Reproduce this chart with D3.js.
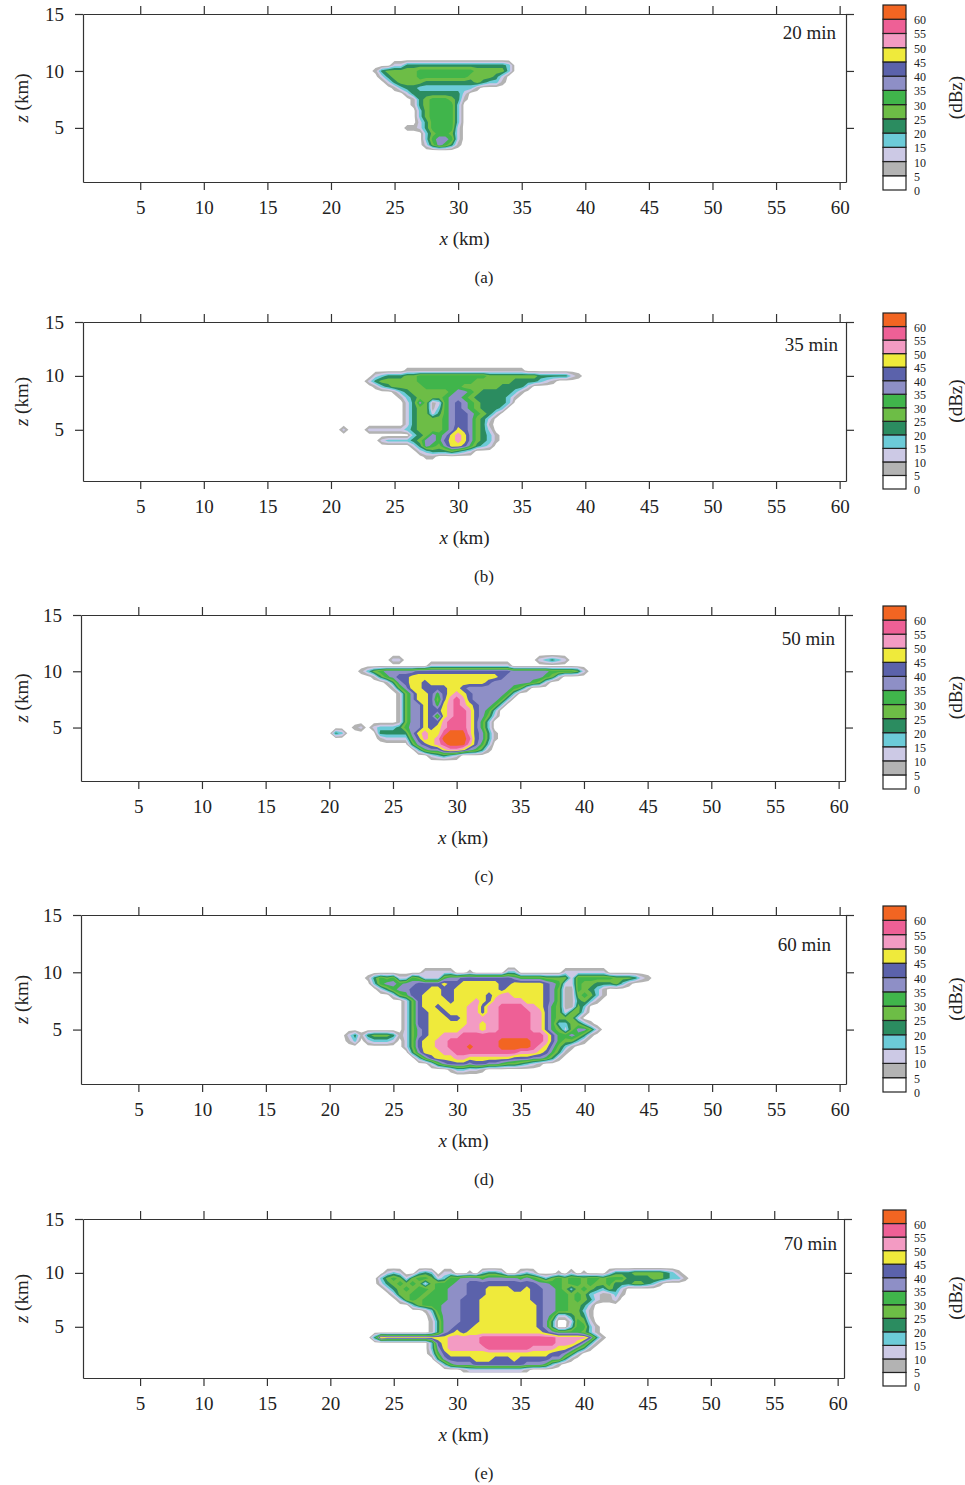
<!DOCTYPE html>
<html>
<head>
<meta charset="utf-8">
<script src="https://cdn.jsdelivr.net/npm/d3@7"></script>
<style>
  body { margin: 0; background: #fff; }
  text { font-family: "Liberation Serif", "DejaVu Serif", serif; fill: #222; }
</style>
</head>
<body>
<svg id="chart" width="965" height="1485"></svg>
<script>
"use strict";

// reflectivity classes, 5 dBz each, with the colour bar colours
const levels = [0, 5, 10, 15, 20, 25, 30, 35, 40, 45, 50, 55, 60];
const levelColors = ["#ffffff", "#b3b3b3", "#ccc9e5", "#6ccbd8", "#2b8c60", "#6dbd46",
                     "#40b54b", "#8e8fc6", "#5b62ab", "#efea3b", "#f39bc3", "#ee6096", "#f26522"];

const xTicks = [5, 10, 15, 20, 25, 30, 35, 40, 45, 50, 55, 60];
const zTicks = [5, 10, 15];
const panelTimes = ["20 min", "35 min", "50 min", "60 min", "70 min"];
const panelTags = ["(a)", "(b)", "(c)", "(d)", "(e)"];

// grid the fields were read on: x from 20 km, z from 11.5 km downwards, 0.5 km step
const gridX0 = 20, gridZTop = 11.5, gridStep = 0.5, gridCols = 59, gridRows = 22;

// each row: [first column, class index per cell (hex digit, "." = none)]
const refl20 = [
    [0, ""], [0, ""],
    [10, "2244444444444444443"],
    [7, "1455555666666666555553"],
    [8, "24555566666666555542"],
    [9, "2455554444444454331"],
    [10, "13443333333331"],
    [12, "2444444442"],
    [13, "145666541"],
    [13, "14566663"],
    [14, "3566663"],
    [14, "3566663"],
    [14, "2466663"],
    [12, "112466662"],
    [15, "356652"],
    [15, "367762"],
    [15, "257641"],
    [0, ""], [0, ""], [0, ""], [0, ""], [0, ""]
];

const refl35 = [
    [0, ""], [0, ""],
    [12, "1111111111111111111"],
    [7, "234445566666666666555555554444421"],
    [6, "245555556666666665555554444321"],
    [7, "1345555566666655555544442"],
    [10, "134555555677654444431"],
    [11, "1345555677654444431"],
    [12, "24751267876544443"],
    [12, "2455136787654443"],
    [12, "245524678876542"],
    [12, "24555567887542"],
    [12, "24555567887541"],
    [2, "2...22222234555567987542"],
    [13, "3457679a975431"],
    [8, "233334577689a975431"],
    [13, "2476579986432"],
    [14, "234445432"],
    [15, "11"],
    [0, ""], [0, ""], [0, ""]
];

const refl50 = [
    [0, ""],
    [10, "22.....................23432"],
    [16, "2222222222222"],
    [5, "135677777888888888888888777777666652"],
    [7, "146788999999999999998777777652"],
    [9, "14789989999999998777777652"],
    [10, "1579988889987777777652"],
    [11, "157998689a987777763"],
    [11, "15799858aba8777763"],
    [11, "15779869aba987763"],
    [11, "15779889abba8763"],
    [11, "15779859abba8752"],
    [11, "1577988abbba863"],
    [4, "12.23334677989abbba863"],
    [1, "43.....4444479a99bccca8741"],
    [8, "1222268a9accccb8741"],
    [13, "4789abccca863"],
    [14, "36779aa97641"],
    [16, "23432"],
    [0, ""], [0, ""], [0, ""]
];

const refl60 = [
    [0, ""], [0, ""], [0, ""],
    [15, "22222..1.....33.......2222222"],
    [6, "146562265222677888888887666655552666666555421"],
    [7, "36776778888988999999889999987622655444531"],
    [8, "246778889988999999989999998751165431"],
    [10, "25688999889999989aa999998751156531"],
    [12, "25899998999a98aaaaa999875114531"],
    [12, "2589989999aa8aabbbbaa98651153"],
    [12, "2588998999aa8aabbbbbaa8652552"],
    [12, "2588999889aaaaabbbbbaa865552"],
    [12, "2588999999aa9aabbbbbaa86335531"],
    [12, "257899999aaa9aabbbbbaa865257752"],
    [3, "241455541257899aaabbbbbbbbbbbbba8667641"],
    [3, "13.23332.25899aabbbbbbbbcccccbba865531"],
    [12, "25899aabbbcbbbbcccccba97531"],
    [13, "47999aabbbbbbbbbbaaa98641"],
    [14, "368999aa999999988877641"],
    [16, "257888788776554321"],
    [19, "133221"],
    [0, ""]
];

const refl70 = [
    [0, ""], [0, ""], [0, ""],
    [9, "232..343.22..1.3443..232...1.2.1...244455555431"],
    [8, "3565256652366777677777676535656656656664444554331"],
    [8, "245656525666778888888888877665665655644455431"],
    [9, "24565665667778889999889887765356543542"],
    [10, "2556656667778889999999887766565321131"],
    [11, "25656666778889999999988776656542112"],
    [13, "35666777888999999999877665542"],
    [15, "136777888999999999877665531"],
    [16, "25777888999999999876224541"],
    [16, "14777888999999999874..2652"],
    [16, "14778889999999999874..36631"],
    [16, "147898999999999999876666531"],
    [7, "4a9999999999aaaaabbbbbbbbbbbbaaaaa841"],
    [16, "389aaaaabbbbbbbbbbbbaaa9741"],
    [16, "379aaaaaabbbbbbbaaaa998641"],
    [16, "268999999999999999988752"],
    [17, "4788889998889888887741"],
    [18, "3677788888888777631"],
    [21, "12222222221"]
];

const panelGrids = [refl20, refl35, refl50, refl60, refl70];

// frame of each panel in the page, and where its time stamp sits
const panelLayout = [
    {top: 14,   bottom: 182,  left: 83, right: 846, timeX: 836, timeDy: 25},
    {top: 322,  bottom: 481,  left: 83, right: 846, timeX: 838, timeDy: 29},
    {top: 615,  bottom: 781,  left: 81, right: 845, timeX: 835, timeDy: 30},
    {top: 915,  bottom: 1084, left: 81, right: 846, timeX: 831, timeDy: 36},
    {top: 1219, bottom: 1378, left: 83, right: 844, timeX: 837, timeDy: 31}
];

const serif = "Liberation Serif, DejaVu Serif, serif";
const svg = d3.select("#chart");

const contourGen = d3.contours()
    .size([gridCols, gridRows])
    .thresholds(levels.slice(1).map((d, i) => i + 0.5));

function gridValues(rows) {
    const values = new Array(gridCols * gridRows).fill(0);
    rows.forEach(function(row, j) {
        const start = row[0], s = row[1];
        for (let k = 0; k < s.length; k++) {
            values[j * gridCols + start + k] = s[k] === "." ? 0 : parseInt(s[k], 16);
        }
    });
    return values;
}

function styleAxis(sel) {
    sel.attr("font-family", serif).attr("font-size", 19);
    sel.selectAll(".domain, .tick line").attr("stroke", "#333").attr("stroke-width", 1.2);
    sel.selectAll("text").attr("fill", "#222");
}

function drawPanel(i) {
    const p = panelLayout[i];
    const g = svg.append("g");

    const x = d3.scaleLinear().domain([0.5, 60.5]).range([p.left, p.right]);
    const y = d3.scaleLinear().domain([0.25, 15]).range([p.bottom, p.top]);

    g.append("clipPath").attr("id", "clip" + i)
      .append("rect")
        .attr("x", p.left).attr("y", p.top)
        .attr("width", p.right - p.left).attr("height", p.bottom - p.top);

    // grid cell (cx, cy) is centred at contour coordinate (cx + 0.5, cy + 0.5)
    const proj = d3.geoTransform({
        point: function(cx, cy) {
            this.stream.point(x(gridX0 + (cx - 0.5) * gridStep),
                              y(gridZTop - (cy - 0.5) * gridStep));
        }
    });
    const path = d3.geoPath(proj);

    g.append("g")
        .attr("clip-path", "url(#clip" + i + ")")
      .selectAll("path")
      .data(contourGen(gridValues(panelGrids[i])))
      .join("path")
        .attr("d", path)
        .attr("fill", d => levelColors[Math.round(d.value + 0.5)])
        .attr("stroke", "none");

    // axes, ticks pointing out on all four sides
    g.append("g").attr("transform", `translate(0,${p.bottom})`)
        .call(d3.axisBottom(x).tickValues(xTicks).tickSize(8).tickPadding(11).tickSizeOuter(0))
        .call(styleAxis);
    g.append("g").attr("transform", `translate(0,${p.top})`)
        .call(d3.axisTop(x).tickValues(xTicks).tickSize(8).tickFormat("").tickSizeOuter(0))
        .call(styleAxis);
    g.append("g").attr("transform", `translate(${p.left},0)`)
        .call(d3.axisLeft(y).tickValues(zTicks).tickSize(8).tickPadding(11).tickSizeOuter(0))
        .call(styleAxis);
    g.append("g").attr("transform", `translate(${p.right},0)`)
        .call(d3.axisRight(y).tickValues(zTicks).tickSize(8).tickFormat("").tickSizeOuter(0))
        .call(styleAxis);

    // axis titles
    const xt = g.append("text")
        .attr("x", (p.left + p.right) / 2).attr("y", p.bottom + 63)
        .attr("text-anchor", "middle").attr("font-size", 19);
    xt.append("tspan").attr("font-style", "italic").text("x");
    xt.append("tspan").text(" (km)");

    const zt = g.append("text")
        .attr("transform", `translate(21,${(p.top + p.bottom) / 2}) rotate(-90)`)
        .attr("text-anchor", "middle").attr("dominant-baseline", "central")
        .attr("font-size", 19);
    zt.append("tspan").attr("font-style", "italic").text("z");
    zt.append("tspan").text(" (km)");

    g.append("text")
        .attr("x", 484).attr("y", p.bottom + 101)
        .attr("text-anchor", "middle").attr("font-size", 17)
        .text(panelTags[i]);

    g.append("text")
        .attr("x", p.timeX).attr("y", p.top + p.timeDy)
        .attr("text-anchor", "end").attr("font-size", 19)
        .text(panelTimes[i]);

    // colour bar; each label sits at the lower edge of its box
    const cbTop = p.top - 9, cbBottom = p.bottom + 8;
    const n = levels.length;
    const boxH = (cbBottom - cbTop) / n;
    const cb = g.append("g");
    cb.selectAll("rect")
      .data(levels)
      .join("rect")
        .attr("x", 883)
        .attr("y", (d, k) => cbTop + (n - 1 - k) * boxH)
        .attr("width", 23)
        .attr("height", boxH)
        .attr("fill", (d, k) => levelColors[k])
        .attr("stroke", "#222")
        .attr("stroke-width", 1.2);
    cb.selectAll("text")
      .data(levels)
      .join("text")
        .attr("x", 914)
        .attr("y", (d, k) => cbTop + (n - k) * boxH + 1)
        .attr("dominant-baseline", "central")
        .attr("font-size", 12)
        .text(d => d);
    cb.append("text")
        .attr("transform", `translate(955,${(cbTop + cbBottom) / 2}) rotate(-90)`)
        .attr("text-anchor", "middle").attr("dominant-baseline", "central")
        .attr("font-size", 19)
        .text("(dBz)");
}

panelGrids.forEach((d, i) => drawPanel(i));
</script>
</body>
</html>
